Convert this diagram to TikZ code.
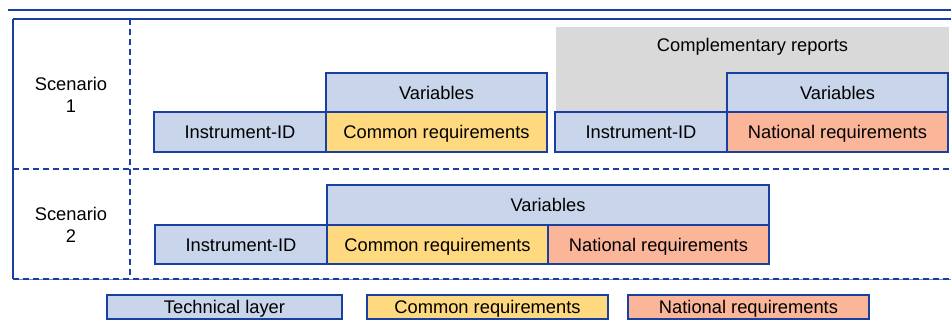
\documentclass[tikz,border=0pt]{standalone}
\usepackage{fontspec}
\setmainfont{Liberation Sans}
\usepackage{tikz}
\usetikzlibrary{positioning}
\definecolor{techblue}{HTML}{C9D5EA}
\definecolor{comyellow}{HTML}{FFD97F}
\definecolor{natsalmon}{HTML}{FBB599}
\definecolor{compgray}{HTML}{D9D9D9}
\definecolor{edgeblue}{HTML}{1940A0}
\tikzset{
  box/.style={draw=edgeblue, line width=1.5pt, inner sep=0pt, minimum height=40pt,
    text height=13.2pt, text depth=0pt, font=\fontsize{18.3}{22}\selectfont},
  techbox/.style={box, fill=techblue},
  combox/.style={box, fill=comyellow},
  natbox/.style={box, fill=natsalmon},
  frameline/.style={draw=edgeblue, line width=1.5pt},
  dashline/.style={frameline, dash pattern=on 6pt off 4pt},
  txt/.style={align=center, font=\fontsize{18.3}{22}\selectfont}
}

\begin{document}
\begin{tikzpicture}[x=1pt, y=-1pt]
\useasboundingbox (0,0) rectangle (951,334);
% gray background of the complementary reports
\node[fill=compgray, inner sep=0pt, minimum width=393pt, minimum height=85pt] (comp) at (752.5,69.5) {};
\node[txt, below=8pt of comp.north] (comptxt) {Complementary reports};

% frame
\draw[draw=edgeblue, line width=2.2pt] (8,10) -- (951,10);
\draw[frameline] (13,19) -- (951,19);
\draw[frameline] (13,19) -- (13,279);
\draw[dashline] (13,169) -- (951,169);
\draw[draw=edgeblue!60, line width=1pt] (13,279) -- (951,279);
\draw[dashline] (13,279) -- (951,279);
\draw[dashline] (130,19) -- (130,279);

% scenario 1
\node[txt] (sc1) at (71,95) {Scenario\\1};
\node[techbox, minimum width=172pt] (s1id) at (240,132) {Instrument-ID};
\node[combox, minimum width=221pt] (s1com) at (436.5,132) {Common requirements};
\node[techbox, minimum width=221pt, minimum height=39pt] (s1var) at (436.5,92.5) {Variables};
\node[techbox, minimum width=172pt] (s1id2) at (641,132) {Instrument-ID};
\node[natbox, minimum width=221pt] (s1nat) at (837.5,132) {National requirements};
\node[techbox, minimum width=221pt, minimum height=39pt] (s1var2) at (837.5,92.5) {Variables};

% scenario 2
\node[txt] (sc2) at (71,225) {Scenario\\2};
\node[techbox, minimum width=172pt, minimum height=39pt] (s2id) at (241,244.5) {Instrument-ID};
\node[combox, minimum width=221pt, minimum height=39pt] (s2com) at (437.5,244.5) {Common requirements};
\node[natbox, minimum width=221pt, minimum height=39pt] (s2nat) at (658.5,244.5) {National requirements};
\node[techbox, minimum width=442pt] (s2var) at (548,205) {Variables};

% legend
\node[techbox, minimum width=235pt, minimum height=24pt] (legtech) at (224.5,307) {Technical layer};
\node[combox, minimum width=241pt, minimum height=24pt] (legcom) at (487.5,307) {Common requirements};
\node[natbox, minimum width=241pt, minimum height=24pt] (legnat) at (748.5,307) {National requirements};
\end{tikzpicture}
\end{document}
